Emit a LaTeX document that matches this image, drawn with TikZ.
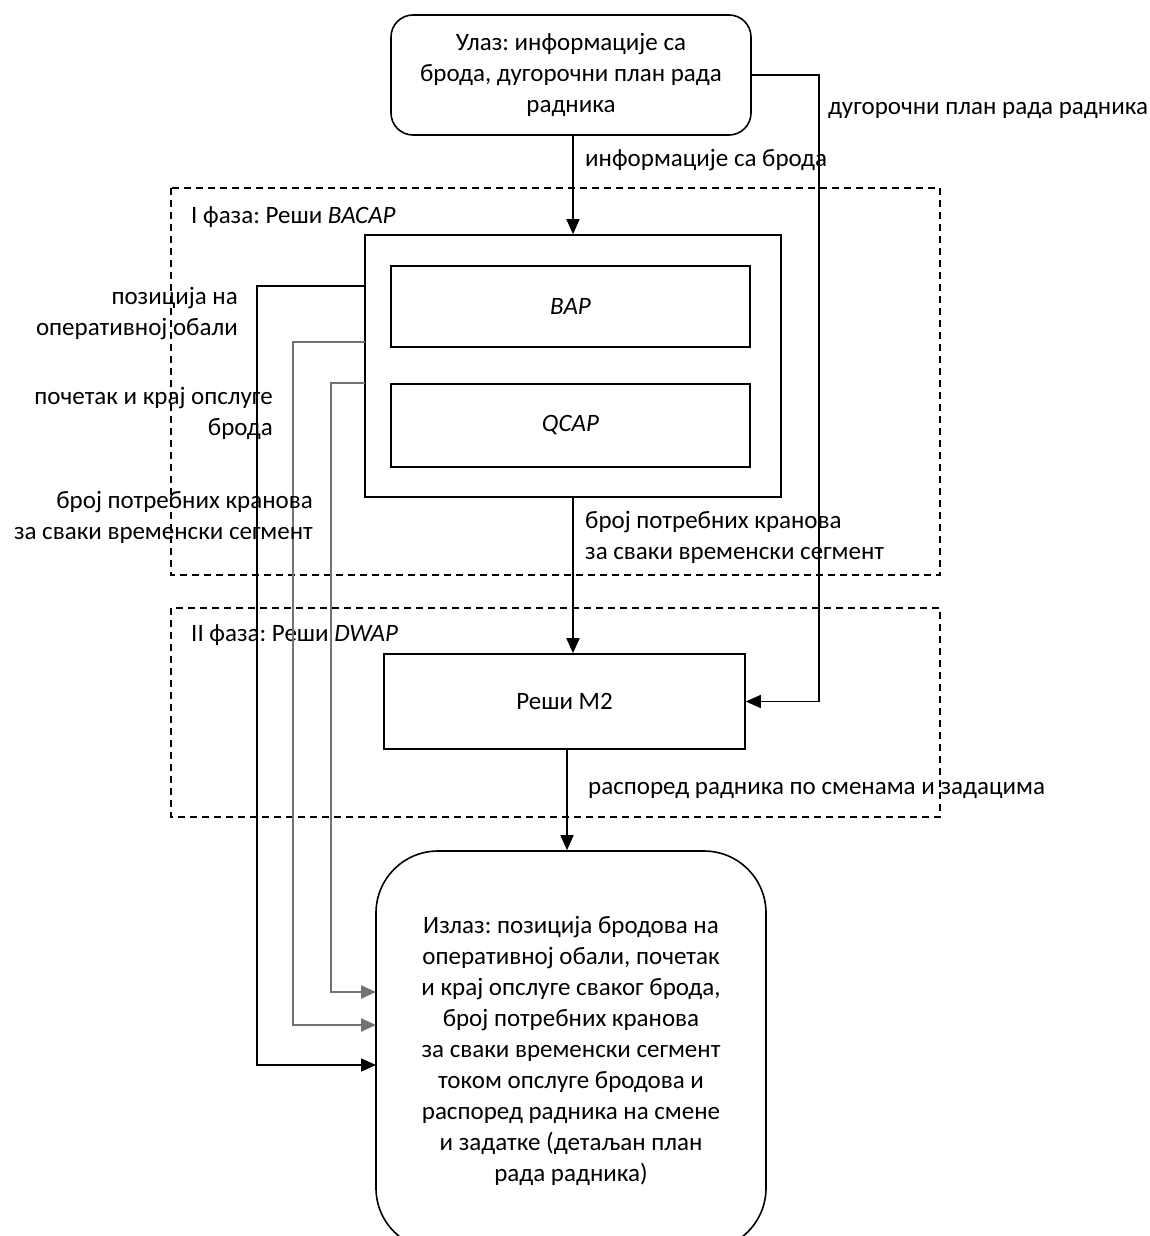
\documentclass[tikz,border=0pt]{standalone}
\usepackage{fontspec}
\setmainfont{Carlito}
\usetikzlibrary{arrows.meta,calc}
\begin{document}
\frenchspacing
\begin{tikzpicture}[x=1pt,y=-1pt,
  every node/.style={font=\fontsize{25}{31}\selectfont},
  box/.style={draw,line width=1.6pt,inner sep=0pt,align=center},
  rbox/.style={box,rounded corners=22pt},
  lbl/.style={inner sep=0pt},
  phase/.style={draw,line width=1.4pt,dash pattern=on 7pt off 5pt},
  conn/.style={line width=1.6pt},
  arr/.style={conn,-{Triangle[length=15pt,width=13pt]}},
  garr/.style={arr,draw=black!55,line width=2.2pt}]
\useasboundingbox (0,0) rectangle (1149,1236);
% phases
\draw[phase] (171,188) rectangle (940,575);
\draw[phase] (171,608) rectangle (940,817);
\node[lbl,anchor=west] (p1) at (191,217) {I фаза: Реши \textit{BACAP}};
\node[lbl,anchor=west] (p2) at (191,635) {II фаза: Реши \textit{DWAP}};
% boxes
\node[rbox,minimum width=360pt,minimum height=120pt] (in) at (571,75)
  {Улаз: информације са\\брода, дугорочни план рада\\радника};
\node[box,minimum width=416pt,minimum height=262pt] (outer) at (573,366) {};
\node[box,minimum width=359pt,minimum height=81pt] (bap) at (570.5,306.5) {\textit{BAP}};
\node[box,minimum width=359pt,minimum height=83pt] (qcap) at (570.5,425.5) {\textit{QCAP}};
\node[box,minimum width=361pt,minimum height=95pt] (m2) at (564.5,701.5) {Реши М2};
\node[box,rounded corners=62pt,minimum width=390pt,minimum height=399pt] (out) at (571,1050.5)
  {Излаз: позиција бродова на\\оперативној обали, почетак\\и крај опслуге сваког брода,\\број потребних кранова\\за сваки временски сегмент\\током опслуге бродова и\\распоред радника на смене\\и задатке (детаљан план\\рада радника)};
% main flow
\draw[arr] (in.south -| outer.north) -- (outer.north);
\draw[arr] (outer.south) -- (outer.south |- m2.north);
\draw[arr] (m2.south -| 567,0) -- (567,0 |- out.north);
\draw[arr] (in.east) -- ++(67,0) |- (m2.east);
% left feedback connectors
\coordinate (c1) at (365,286);
\coordinate (c2) at (365,342);
\coordinate (c3) at (365,383);
\coordinate (t1) at (376,1065);
\coordinate (t2) at (376,1025);
\coordinate (t3) at (376,992);
\draw[arr] (c1) -- ++(-108,0) |- (t1);
\draw[garr] (c2) -- ++(-72,0) |- (t2);
\draw[garr] (c3) -- ++(-34,0) |- (t3);
% labels
\node[lbl,anchor=west] (l1) at (585,160) {информације са брода};
\node[lbl,anchor=west] (l2) at (828,110) {дугорочни план рада радника};
\node[lbl,anchor=west,align=left] (l3) at (585,537.5) {број потребних кранова\\за сваки временски сегмент};
\node[lbl,anchor=west] (l4) at (588,790) {распоред радника по сменама и задацима};
\node[lbl,anchor=east,align=right] (l5) at (238,313.5) {позиција на\\оперативној обали};
\node[lbl,anchor=east,align=right] (l6) at (273,413) {почетак и крај опслуге\\брода};
\node[lbl,anchor=east,align=right] (l7) at (313,517.5) {број потребних кранова\\за сваки временски сегмент};
\end{tikzpicture}
\end{document}
